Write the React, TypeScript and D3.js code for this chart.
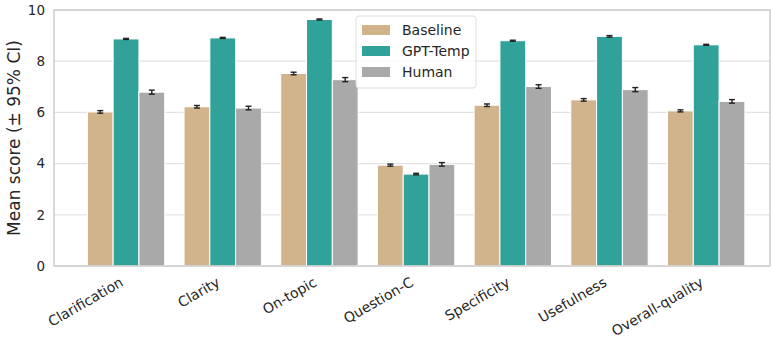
import React from "react";
import * as d3 from "d3";

const categories = ["Clarification", "Clarity", "On-topic", "Question-C", "Specificity", "Usefulness", "Overall-quality"];
const seriesNames = ["Baseline", "GPT-Temp", "Human"];
const baseline = [6.02, 6.22, 7.52, 3.94, 6.28, 6.49, 6.06];
const gptTemp = [8.87, 8.91, 9.63, 3.59, 8.80, 8.97, 8.64];
const human = [6.79, 6.17, 7.28, 3.97, 7.01, 6.89, 6.43];
const baselineCI = [0.05, 0.05, 0.05, 0.04, 0.05, 0.05, 0.04];
const gptCI = [0.02, 0.02, 0.02, 0.03, 0.02, 0.03, 0.02];
const humanCI = [0.08, 0.07, 0.08, 0.07, 0.07, 0.08, 0.07];
const yTicks = [0, 2, 4, 6, 8, 10];
const colors = ["#D2B48C", "#31A29A", "#A9A9A9"];

const W = 771, H = 339;
const FONT = "DejaVu Sans, sans-serif";

export default function App() {
  const x = d3.scaleLinear().domain([-0.745, 6.66]).range([54, 770]);
  const y = d3.scaleLinear().domain([0, 10]).range([266, 10]);
  const series = [baseline, gptTemp, human];
  const cis = [baselineCI, gptCI, humanCI];
  const bw = 0.8 / 3;
  const pxW = x(bw) - x(0);

  return (
    <svg width={W} height={H} style={{ position: "absolute", left: 0, top: 0, background: "#fff" }} fontFamily={FONT}>
      {yTicks.map((t) => (
        <line key={"g" + t} x1={54} x2={770} y1={y(t)} y2={y(t)} stroke="#e3e3e3" strokeWidth={1.2} />
      ))}
      {series.map((vals, s) =>
        vals.map((v, i) => {
          const cx = x(i + (s - 1) * bw);
          return (
            <rect key={`b${s}-${i}`} x={cx - pxW / 2} y={y(v)} width={pxW} height={y(0) - y(v)}
              fill={colors[s]} stroke="#fff" strokeWidth={1} />
          );
        })
      )}
      {series.map((vals, s) =>
        vals.map((v, i) => {
          const cx = x(i + (s - 1) * bw);
          const lo = y(v - cis[s][i]);
          const hi = y(v + cis[s][i]);
          return (
            <g key={`e${s}-${i}`} stroke="#222" strokeWidth={1.4}>
              <line x1={cx} x2={cx} y1={lo} y2={hi} />
              <line x1={cx - 3} x2={cx + 3} y1={lo} y2={lo} />
              <line x1={cx - 3} x2={cx + 3} y1={hi} y2={hi} />
            </g>
          );
        })
      )}
      <rect x={54} y={10} width={716} height={256} fill="none" stroke="#cccccc" strokeWidth={1.5} />
      {yTicks.map((t) => (
        <text key={"yt" + t} x={45} y={y(t)} dy="0.36em" textAnchor="end" fontSize={13.5} fill="#262626">{t}</text>
      ))}
      <text transform={`translate(14,${(10 + 266) / 2}) rotate(-90)`} textAnchor="middle" dy="0.36em" fontSize={17} fill="#262626">
        Mean score (± 95% CI)
      </text>
      {categories.map((c, i) => (
        <text key={"xl" + i} transform={`translate(${x(i) - 7},${276}) rotate(-30)`} textAnchor="end" dy="0.75em" fontSize={14} fill="#262626">
          {c}
        </text>
      ))}
      <g>
        <rect x={356} y={16} width={120} height={72} rx={3} fill="#fff" fillOpacity={0.85} stroke="#dddddd" strokeWidth={1} />
        {seriesNames.map((n, k) => (
          <g key={"lg" + k}>
            <rect x={362} y={25 + k * 21} width={28} height={10} fill={colors[k]} />
            <text x={402} y={30 + k * 21} dy="0.36em" fontSize={14} fill="#262626">{n}</text>
          </g>
        ))}
      </g>
    </svg>
  );
}
